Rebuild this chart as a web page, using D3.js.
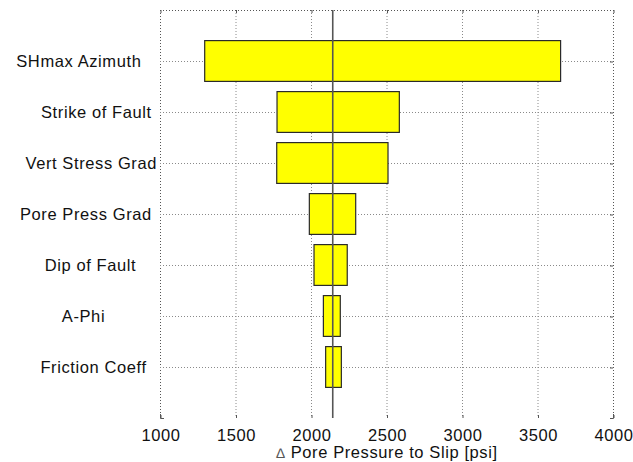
<!DOCTYPE html>
<html>
<head>
<meta charset="utf-8">
<script src="https://cdn.jsdelivr.net/npm/d3@7"></script>
<style>
  html, body { margin: 0; padding: 0; background: #fff; }
  svg text { font-family: "Liberation Sans", Arial, Helvetica, sans-serif; fill: #111; white-space: pre; }
</style>
</head>
<body>
<svg id="chart" width="633" height="462"></svg>
<script>
// Sensitivity of the pore pressure needed to cause slip to each input parameter
const categories = ["SHmax Azimuth   ", "Strike of Fault ", "Vert Stress Grad", "Pore Press Grad ",
                    "Dip of Fault    ", "A-Phi          ", "Friction Coeff  "];
const lowValues  = [1296, 1775, 1773, 1989, 2020, 2082, 2097];
const highValues = [3653, 2585, 2510, 2296, 2240, 2194, 2201];
const baseValue = 2144;
const xTicks = [1000, 1500, 2000, 2500, 3000, 3500, 4000];
const xTitle = "Pore Pressure to Slip [psi]";

const svg = d3.select("#chart");
const plotLeft = 160, plotRight = 613, plotTop = 10, plotBottom = 418;
const fontSize = 16.5, spacing = 0.6;

const x = d3.scaleLinear().domain([1000, 4000]).range([plotLeft, plotRight]);
const y = d3.scalePoint().domain(categories).range([plotTop, plotBottom]).padding(1);
const barH = y.step() * 0.8;

const gridColor = "#8a8a8a";

// vertical grid lines (including the plot edges)
svg.append("g").selectAll("line").data(xTicks).join("line")
  .attr("x1", d => x(d) + 0.5).attr("x2", d => x(d) + 0.5)
  .attr("y1", plotTop).attr("y2", plotBottom)
  .attr("stroke", d => (d === 1000 || d === 4000) ? "#555" : gridColor)
  .attr("stroke-width", 1).attr("stroke-dasharray", "1,2");

// horizontal grid lines at each parameter, plus the top edge
svg.append("g").selectAll("line").data(categories).join("line")
  .attr("x1", plotLeft).attr("x2", plotRight)
  .attr("y1", d => Math.round(y(d)) + 0.5).attr("y2", d => Math.round(y(d)) + 0.5)
  .attr("stroke", gridColor).attr("stroke-width", 1).attr("stroke-dasharray", "1,2");
svg.append("line")
  .attr("x1", plotLeft).attr("x2", plotRight).attr("y1", plotTop + 0.5).attr("y2", plotTop + 0.5)
  .attr("stroke", "#555").attr("stroke-dasharray", "1,2");

// bars spanning low to high values
svg.append("g").selectAll("rect").data(categories).join("rect")
  .attr("x", (d, i) => x(lowValues[i]))
  .attr("width", (d, i) => x(highValues[i]) - x(lowValues[i]))
  .attr("y", d => y(d) - barH / 2)
  .attr("height", barH)
  .attr("fill", "#ffff00")
  .attr("stroke", "#2a2a2a").attr("stroke-width", 1.2);

// base case line
svg.append("line")
  .attr("x1", x(baseValue)).attr("x2", x(baseValue))
  .attr("y1", plotTop).attr("y2", plotBottom)
  .attr("stroke", "#555").attr("stroke-width", 1.6);

// bottom axis: inward ticks and labels
const xAxis = d3.axisBottom(x).tickValues(xTicks).tickSize(-3).tickPadding(11).tickFormat(d3.format("d"));
const gx = svg.append("g").attr("transform", `translate(0.5,${plotBottom})`).call(xAxis);
gx.select(".domain").remove();
gx.selectAll(".tick line").attr("stroke", "#555");
gx.selectAll(".tick text").attr("font-size", fontSize).attr("letter-spacing", spacing).attr("fill", "#111");

// top axis ticks
const gt = svg.append("g").attr("transform", `translate(0.5,${plotTop})`)
  .call(d3.axisTop(x).tickValues(xTicks).tickSize(-3).tickFormat(""));
gt.select(".domain").remove();
gt.selectAll(".tick line").attr("stroke", "#555");

// right axis ticks
const gr = svg.append("g").attr("transform", `translate(${plotRight},0.5)`)
  .call(d3.axisRight(y).tickSize(-3).tickFormat(""));
gr.select(".domain").remove();
gr.selectAll(".tick line").attr("stroke", "#555");

// bottom corners
svg.append("path")
  .attr("d", `M${plotLeft + 0.5},${plotBottom - 4}V${plotBottom + 0.5}H${plotLeft + 4}M${plotRight + 0.5},${plotBottom - 4}V${plotBottom + 0.5}H${plotRight - 3}`)
  .attr("fill", "none").attr("stroke", "#555");

// parameter labels
const gy = svg.append("g").attr("transform", `translate(${plotLeft},0)`)
  .call(d3.axisLeft(y).tickSize(0).tickPadding(3));
gy.select(".domain").remove();
gy.selectAll(".tick text").attr("font-size", fontSize).attr("letter-spacing", spacing)
  .attr("fill", "#111").attr("dy", "0.35em");

// axis title
const title = svg.append("text")
  .attr("x", (plotLeft + plotRight) / 2 + 0.5).attr("y", 458)
  .attr("text-anchor", "middle").attr("font-size", fontSize).attr("letter-spacing", spacing);
title.append("tspan").attr("font-size", 14).attr("fill", "#555").text("\u2206");
title.append("tspan").text(" " + xTitle);
</script>
</body>
</html>
